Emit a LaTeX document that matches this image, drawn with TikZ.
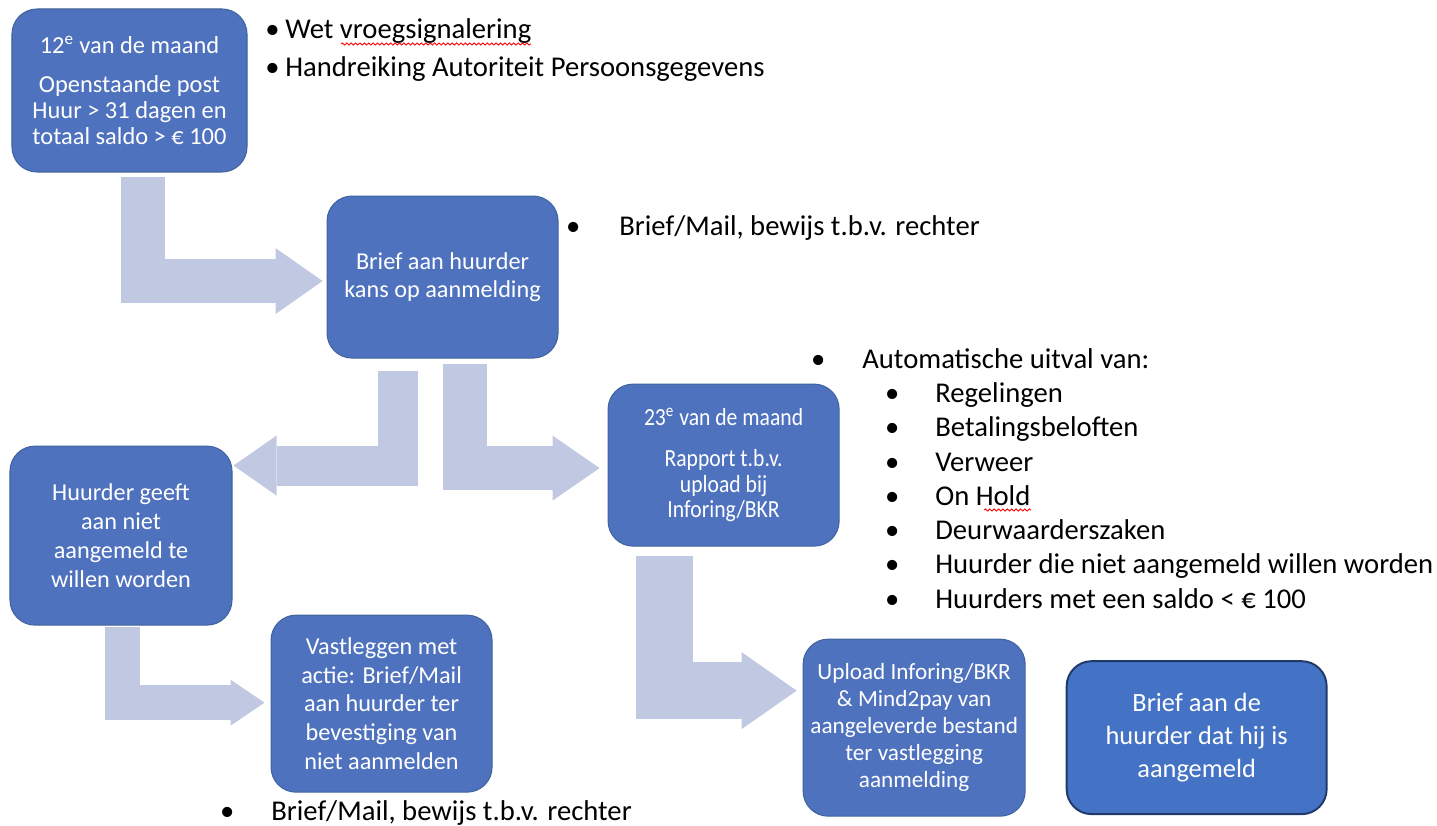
\documentclass[tikz,border=0pt]{standalone}
\usepackage{fontspec}
\setmainfont{Carlito}
\newfontfamily\narrowfont[FakeStretch=0.88]{Carlito}
\usepackage{xcolor}
\usetikzlibrary{shapes.geometric, arrows.meta, positioning, calc, decorations.pathmorphing}

\definecolor{boxblue}{HTML}{4F72BE}
\definecolor{boxedge}{HTML}{41639F}
\definecolor{lastblue}{HTML}{4472C4}
\definecolor{lastedge}{HTML}{1F3A68}
\definecolor{flowfill}{HTML}{C0C9E1}

\begin{document}
\begin{tikzpicture}
\tikzstyle{block} = [rectangle, draw=boxedge, line width=0.6pt, fill=boxblue, text=white, align=center, rounded corners=0.5cm, inner sep=0pt, font=\fontsize{13.8}{16.5}\selectfont]
\tikzstyle{note} = [align=left, inner sep=0pt, font=\fontsize{16.3}{19.5}\selectfont]
\tikzstyle{spell} = [red, line width=0.5pt, decorate, decoration={snake, amplitude=0.6pt, segment length=2.5pt}]
\tikzset{flow/.style n args={3}{draw=flowfill, line width=#1, line join=miter, -{Triangle[length=#2, width=#3, line width=0pt]}}}

\useasboundingbox (0,0) rectangle (28.74,-16.52);

\node [block, minimum width=4.7cm, minimum height=3.26cm, font=\fontsize{13.9}{15}\selectfont] (b12) at (2.59,-1.81) {12\textsuperscript{e} van de maand\\[7pt] Openstaande post\\ Huur > 31 dagen en\\ totaal saldo > € 100};

\node [block, below right=0.46cm and 1.58cm of b12, minimum width=4.62cm, minimum height=3.24cm, font=\fontsize{13.8}{16}\selectfont] (brief) {Brief aan huurder\\ kans op aanmelding};

\node [block, below right=0.5cm and 0.98cm of brief, minimum width=4.62cm, minimum height=3.24cm, font=\narrowfont\fontsize{14}{14.5}\selectfont] (r23) {23\textsuperscript{e} van de maand\\[8.8pt] Rapport t.b.v.\\ upload bij\\ Inforing/BKR};

\node [block, below left=1.74cm and 1.88cm of brief, minimum width=4.44cm, minimum height=3.58cm] (weigert) {Huurder geeft\\ aan niet\\ aangemeld te\\ willen worden};

\node [block, below right=-0.22cm and 0.76cm of weigert, minimum width=4.42cm, minimum height=3.54cm] (vastleg) {Vastleggen met\\ actie: Brief/Mail\\ aan huurder ter\\ bevestiging van\\ niet aanmelden};

\node [block, below right=1.84cm and -0.74cm of r23, minimum width=4.44cm, minimum height=3.54cm, font=\fontsize{13.2}{15.4}\selectfont] (upload) {Upload Inforing/BKR\\ \& Mind2pay van\\ aangeleverde bestand\\ ter vastlegging\\ aanmelding};

\node [block, right=0.8cm of upload, yshift=-0.2cm, minimum width=5.2cm, minimum height=3.06cm, fill=lastblue, draw=lastedge, line width=1.1pt, font=\fontsize{15}{18.8}\selectfont] (bevestig) {Brief aan de\\ huurder dat hij is\\ aangemeld};

\node [note, anchor=north west, font=\fontsize{16.3}{21.6}\selectfont] (wet) at (5.3,-0.36) {\makebox[0.4cm][l]{\textbullet}Wet vroegsignalering\\ \makebox[0.4cm][l]{\textbullet}Handreiking Autoriteit Persoonsgegevens};
\node [note, anchor=west] (bewijs1) at (12.38,-4.56) {\llap{\textbullet\hspace{0.78cm}}Brief/Mail, bewijs t.b.v. rechter};
\node [note, anchor=west] (bewijs2) at (5.42,-16.26) {\llap{\textbullet\hspace{0.74cm}}Brief/Mail, bewijs t.b.v. rechter};
\node [note, anchor=north west] (uitval) at (17.24,-6.96) {\llap{\textbullet\hspace{0.74cm}}Automatische uitval van:\\
\hspace*{1.46cm}\llap{\textbullet\hspace{0.72cm}}Regelingen\\
\hspace*{1.46cm}\llap{\textbullet\hspace{0.72cm}}Betalingsbeloften\\
\hspace*{1.46cm}\llap{\textbullet\hspace{0.72cm}}Verweer\\
\hspace*{1.46cm}\llap{\textbullet\hspace{0.72cm}}On Hold\\
\hspace*{1.46cm}\llap{\textbullet\hspace{0.72cm}}Deurwaarderszaken\\
\hspace*{1.46cm}\llap{\textbullet\hspace{0.72cm}}Huurder die niet aangemeld willen worden\\
\hspace*{1.46cm}\llap{\textbullet\hspace{0.72cm}}Huurders met een saldo < € 100};

\draw [spell] (6.82,-0.88) -- (10.62,-0.88);
\draw [spell] (19.68,-10.2) -- (20.62,-10.2);

\draw [flow={0.88cm}{0.94cm}{1.32cm}] ($(b12.south)+(0.27,-0.08)$) |- ($(brief.west)+(-0.08,-0.08)$);
\draw [flow={0.8cm}{0.86cm}{1.2cm}] ($(brief.south)+(-0.9,-0.24)$) |- ($(weigert.north east)+(0.02,-0.4)$);
\draw [flow={0.88cm}{0.94cm}{1.3cm}] ($(brief.south)+(0.45,-0.1)$) |- ($(r23.west)+(-0.16,-0.06)$);
\draw [flow={0.7cm}{0.68cm}{0.92cm}] ($(weigert.south)+(0.02,-0.02)$) |- ($(vastleg.west)+(-0.12,0.02)$);
\draw [flow={1.14cm}{1.1cm}{1.54cm}] ($(r23.south)+(-1.18,-0.18)$) |- ($(upload.west)+(-0.12,0.74)$);

\end{tikzpicture}
\end{document}
